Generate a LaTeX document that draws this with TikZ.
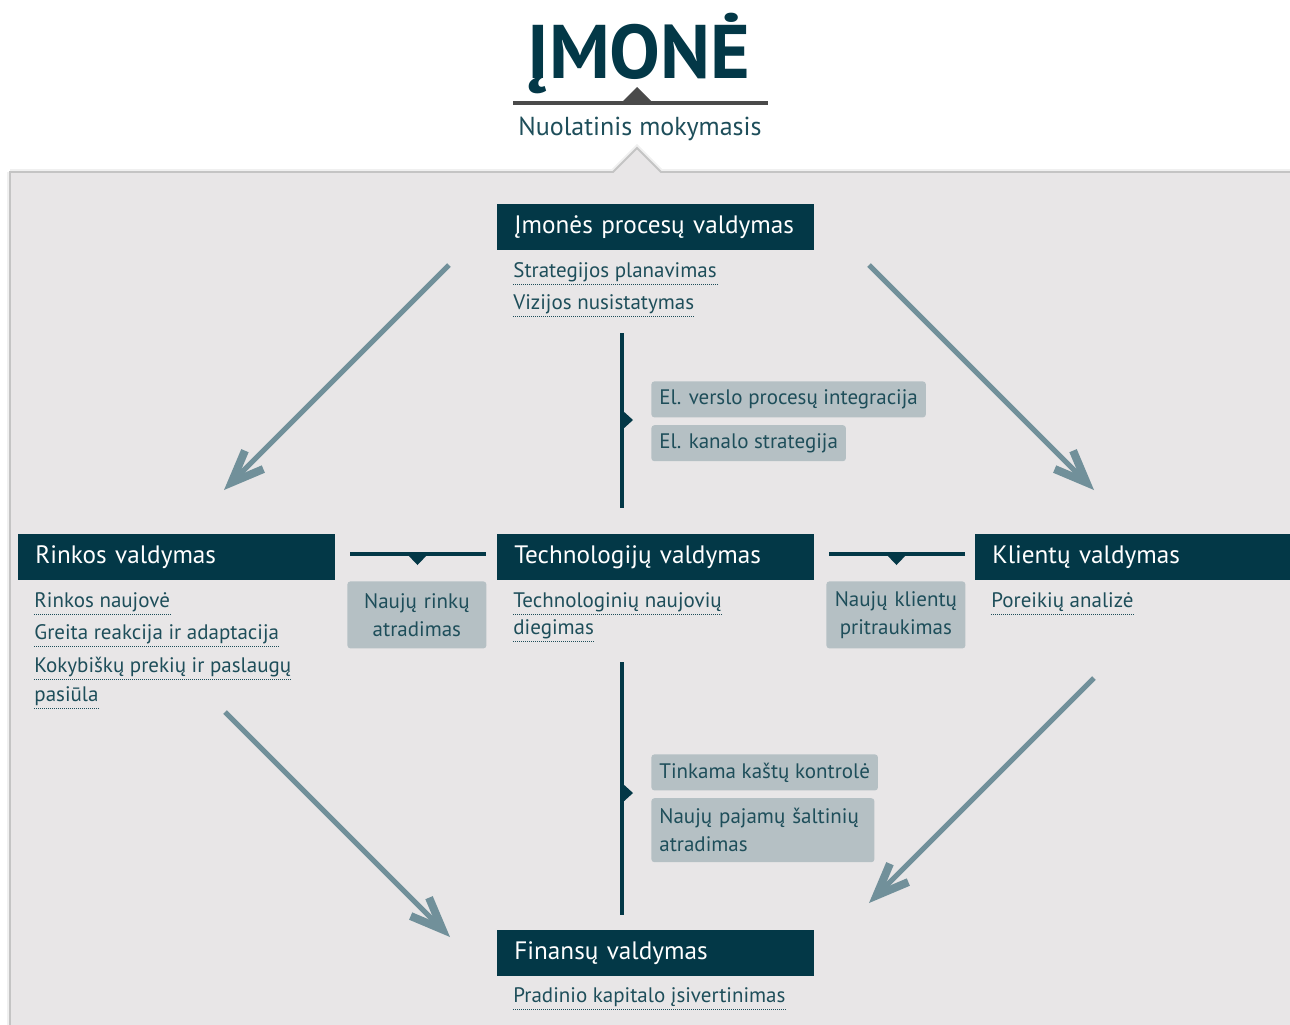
\documentclass[tikz,border=0pt]{standalone}
\usepackage{fontspec}
\setmainfont{PT Sans}
\usetikzlibrary{positioning,calc,arrows.meta}
\definecolor{darkteal}{HTML}{033847}
\definecolor{inkteal}{HTML}{1E4E5A}
\definecolor{tagfill}{HTML}{B5C0C4}
\definecolor{panelfill}{HTML}{E8E6E7}
\definecolor{paneledge}{HTML}{C4C4C4}
\definecolor{arrowteal}{HTML}{71909A}
\definecolor{titleline}{HTML}{4A4A4A}
\tikzset{
  head/.style={fill=darkteal, text=white, anchor=north west, minimum height=23pt,
    text width=141.5pt, inner xsep=8.5pt, inner ysep=0pt, align=left,
    font=\fontsize{12.6}{14}\selectfont},
  dotline/.style={draw=inkteal, line width=0.5pt, dash pattern=on 0.5pt off 0.5pt},
  item/.style={text=inkteal, anchor=base west, inner sep=0pt,
    font=\fontsize{10.5}{12}\selectfont,
    append after command={([yshift=-3.5pt]\tikzlastnode.base west)
      edge[dotline] ([yshift=-3.5pt]\tikzlastnode.base east)}},
  tag/.style={fill=tagfill, text=inkteal, rounded corners=1.5pt, inner xsep=4pt,
    inner ysep=0pt, minimum height=18pt, anchor=north west,
    font=\fontsize{10.5}{14}\selectfont},
  flow/.style={draw=arrowteal, line width=2.5pt,
    -{Straight Barb[length=16pt 0, width=13pt 0, line width=1.5pt 1]}},
  link/.style={draw=darkteal, line width=1.6pt},
}
\begin{document}
\begin{tikzpicture}[x=0.5pt, y=-0.5pt]
    \useasboundingbox (0,0) rectangle (1290,1024);
    % background panel with notch
    \draw[gray!12, line width=3pt] (10,172) -- (613,172) -- (637,148) -- (661,172) -- (1300,172);
    \draw[gray!12, line width=3pt] (10,172) -- (10,1030);
    \filldraw[fill=panelfill, draw=paneledge, line width=0.9pt]
      (10,1030) -- (10,172) -- (613,172) -- (637,148) -- (661,172) -- (1300,172)
      -- (1300,1030) -- cycle;
    %
    % title
    \node[anchor=base, text=darkteal, inner sep=0pt,
      font=\fontsize{38}{42}\bfseries\selectfont] (title) at (639,78) {ĮMONĖ};
    \coordinate (tl_left) at (513,103);
    \coordinate (tl_right) at (768,103);
    \draw[titleline, line width=2pt] (tl_left) -- (tl_right);
    \fill[titleline] (622,102) -- (637,87) -- (652,102) -- cycle;
    \node[anchor=base, text=inkteal, inner sep=0pt,
      font=\fontsize{13}{14}\selectfont] (motto) at (640,135) {Nuolatinis mokymasis};
    %
    % headings
    \node[head] (proc) at (497,204) {Įmonės procesų valdymas};
    \node[head] (rinka) at (18,534) {Rinkos valdymas};
    \node[head] (tech) at (497,534) {Technologijų valdymas};
    \node[head] (klient) at (975,534) {Klientų valdymas};
    \node[head] (fin) at (497,930) {Finansų valdymas};
    %
    % items
    \node[item] (strat) at (513,277) {Strategijos planavimas};
    \node[item] (vizija) at (513,309) {Vizijos nusistatymas};
    \node[item] (naujove) at (34,607) {Rinkos naujovė};
    \node[item] (reakcija) at (34,639) {Greita reakcija ir adaptacija};
    \node[item] (kokybe) at (34,672) {Kokybiškų prekių ir paslaugų};
    \node[item] (pasiula) at (34,701) {pasiūla};
    \node[item] (technauj) at (513,607) {Technologinių naujovių};
    \node[item] (diegimas) at (513,634) {diegimas};
    \node[item] (poreikis) at (991,607) {Poreikių analizė};
    \node[item] (kapitalas) at (513,1002) {Pradinio kapitalo įsivertinimas};
    %
    % tags
    \node[tag] (integr) at (651,381) {El. verslo procesų integracija};
    \node[tag, below right=3.5pt and 0pt of integr.south west] (kanalas) {El. kanalo strategija};
    \node[tag] (kastai) at (651,754) {Tinkama kaštų kontrolė};
    \node[tag, below right=3.5pt and 0pt of kastai.south west, text width=103.5pt,
      align=left, minimum height=32pt] (pajamos) {Naujų pajamų šaltinių\\atradimas};
    \node[tag, text width=61.5pt, align=center, minimum height=33.5pt] (rinkos) at (347,581) {Naujų rinkų\\atradimas};
    \node[tag, text width=61.5pt, align=center, minimum height=33.5pt] (klientai) at (826,581) {Naujų klientų\\pritraukimas};
    %
    % links
    \coordinate (v1_top) at (622,333);
    \coordinate (v1_bot) at (622,508);
    \coordinate (v2_top) at (622,662);
    \coordinate (v2_bot) at (622,915);
    \coordinate (h1_left) at (350,554);
    \coordinate (h1_right) at (486,554);
    \coordinate (h2_left) at (829,554);
    \coordinate (h2_right) at (965,554);
    \draw[link] (v1_top) -- (v1_bot);
    \draw[link] (v2_top) -- (v2_bot);
    \draw[link, line width=2pt] (h1_left) -- (h1_right);
    \draw[link, line width=2pt] (h2_left) -- (h2_right);
    \fill[darkteal] (622,410) -- (633,420) -- (622,430) -- cycle;
    \fill[darkteal] (622,783) -- (633,793) -- (622,803) -- cycle;
    \fill[darkteal] (407,554) -- (417.5,565) -- (428,554) -- cycle;
    \fill[darkteal] (886,554) -- (896.5,565) -- (907,554) -- cycle;
    %
    % flows
    \coordinate (f1_start) at (449,265);
    \coordinate (f1_end) at (224,490);
    \coordinate (f2_start) at (869,265);
    \coordinate (f2_end) at (1094,490);
    \coordinate (f3_start) at (225,712);
    \coordinate (f3_end) at (450,937);
    \coordinate (f4_start) at (1094,678);
    \coordinate (f4_end) at (869,903);
    \draw[flow] (f1_start) -- (f1_end);
    \draw[flow] (f2_start) -- (f2_end);
    \draw[flow] (f3_start) -- (f3_end);
    \draw[flow] (f4_start) -- (f4_end);
  \end{tikzpicture}
\end{document}
